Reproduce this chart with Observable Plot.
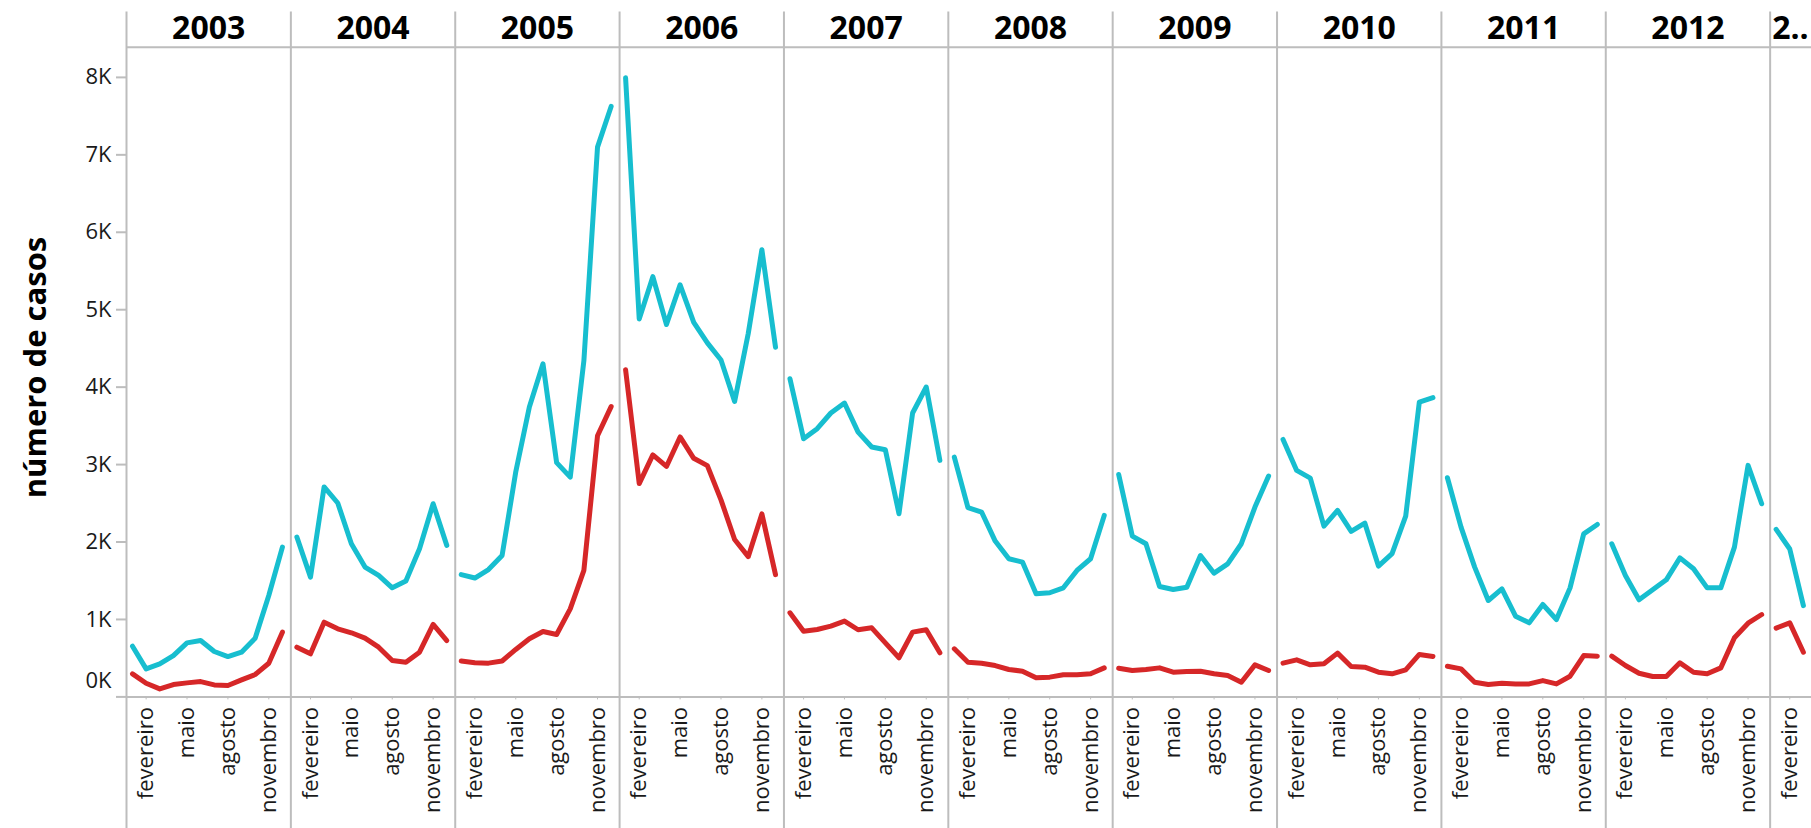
<!DOCTYPE html>
<html>
<head>
<meta charset="utf-8">
<script src="https://cdn.jsdelivr.net/npm/d3@7"></script>
<script src="https://cdn.jsdelivr.net/npm/@observablehq/plot@0.6"></script>
<style>
  html, body { margin: 0; padding: 0; background: #fff; overflow: hidden; }
  #chart svg { display: block; }
</style>
</head>
<body>
<div id="chart"></div>
<script>
// ---- data -------------------------------------------------------------
const years = [2003, 2004, 2005, 2006, 2007, 2008, 2009, 2010, 2011, 2012, 2013];
const monthNames = ["janeiro","fevereiro","março","abril","maio","junho","julho","agosto","setembro","outubro","novembro","dezembro"];
const tickMonths = [2, 5, 8, 11];
const yTicks = [0, 1000, 2000, 3000, 4000, 5000, 6000, 7000, 8000];
const seriesNames = ["notificados", "confirmados"];
const yTitle = "número de casos";

// monthly values, Jan..Dec for each year (2013: Jan..Mar)
const notificados = [
  655, 362, 427, 534, 698, 728, 586, 521, 578, 758, 1310, 1935,      // 2003
  2064, 1547, 2711, 2504, 1978, 1677, 1569, 1409, 1496, 1914, 2495, 1957, // 2004
  1579, 1535, 1645, 1827, 2904, 3743, 4301, 3025, 2838, 4340, 7100, 7625, // 2005
  7994, 4881, 5427, 4809, 5322, 4836, 4571, 4351, 3815, 4693, 5775, 4516, // 2006
  4109, 3334, 3464, 3666, 3795, 3420, 3227, 3192, 2366, 3666, 4002, 3054, // 2007
  3097, 2443, 2387, 2012, 1784, 1741, 1332, 1345, 1409, 1633, 1784, 2344, // 2008
  2873, 2077, 1978, 1426, 1387, 1417, 1826, 1598, 1718, 1978, 2451, 2852, // 2009
  3325, 2925, 2826, 2206, 2408, 2137, 2244, 1689, 1849, 2335, 3808, 3864, // 2010
  2830, 2193, 1676, 1245, 1396, 1042, 956, 1193, 999, 1408, 2106, 2227,   // 2011
  1977, 1568, 1254, 1383, 1512, 1796, 1654, 1408, 1408, 1934, 2990, 2494, // 2012
  2164, 1910, 1178                                                      // 2013
];
const confirmados = [
  297, 177, 103, 160, 181, 198, 155, 147, 220, 289, 435, 836,            // 2003
  642, 556, 965, 879, 828, 759, 642, 470, 448, 578, 936, 728,            // 2004
  464, 442, 436, 464, 613, 751, 845, 806, 1137, 1634, 3373, 3749,        // 2005
  4224, 2755, 3125, 2976, 3357, 3081, 2987, 2545, 2032, 1811, 2363, 1579, // 2006
  1086, 849, 871, 914, 979, 867, 892, 698, 505, 836, 867, 570,           // 2007
  621, 448, 435, 405, 354, 332, 246, 255, 285, 285, 298, 375,            // 2008
  371, 341, 354, 375, 319, 328, 332, 298, 276, 190, 414, 341,            // 2009
  436, 479, 414, 427, 565, 393, 384, 319, 298, 350, 548, 522,            // 2010
  396, 362, 190, 160, 177, 168, 168, 211, 168, 267, 534, 526,            // 2011
  526, 405, 306, 263, 263, 440, 319, 298, 375, 763, 952, 1064,           // 2012
  888, 956, 577                                                          // 2013
];

// ---- table built from the arrays ---------------------------------------
const rows = [];
[notificados, confirmados].forEach((arr, s) => {
  arr.forEach((v, i) => {
    rows.push({serie: seriesNames[s], year: years[0] + Math.floor(i / 12), month: (i % 12) + 1, value: v});
  });
});

const yMax = 8390;
const lastYear = years[years.length - 1];
const fullYears = years.slice(0, -1);
const grid = "#bdbdbd";
const ink = "#1a1a1a";
const font = "'Open Sans', 'Noto Sans', sans-serif";

const chart = Plot.plot({
  width: 1934,
  height: 828,
  marginLeft: 126,
  marginRight: 0,
  marginTop: 12,
  marginBottom: 0,
  style: {maxWidth: "none", fontFamily: font, background: "#fff", overflow: "hidden"},
  fx: {domain: years, padding: 0, round: false, axis: null, label: null},
  x: {domain: [0.56, 12.62], label: null},
  y: {domain: [0, yMax], insetTop: 34.7, insetBottom: 131.6, label: null},
  color: {domain: seriesNames, range: ["#17becf", "#d62728"]},
  marks: [
    Plot.frame({anchor: "left", stroke: grid, strokeWidth: 2}),
    Plot.ruleY([yMax, 0], {stroke: grid, strokeWidth: 2}),
    Plot.axisY({
      ticks: yTicks, tickSize: 10, tickPadding: 5, stroke: grid, strokeWidth: 2,
      tickFormat: d => d === 0 ? "" : (d / 1000) + "K",
      fontSize: 22, fill: ink, label: null
    }),
    Plot.axisY({
      ticks: [0], tickSize: 0, tickPadding: 15, dy: -15.7,
      tickFormat: d => (d / 1000) + "K", fontSize: 22, fill: ink, label: null
    }),
    Plot.axisX({
      ticks: tickMonths, tickFormat: m => monthNames[m - 1], tickRotate: -90,
      tickSize: 3, tickPadding: 7, dy: -131.6, stroke: grid, fill: ink,
      fontSize: 22, label: null
    }),
    Plot.lineY(rows, {
      fx: "year", x: "month", y: "value", stroke: "serie", z: "serie",
      strokeWidth: 5, strokeLinecap: "round", strokeLinejoin: "round"
    }),
    Plot.text(fullYears, {
      fx: d => d, text: d => String(d), frameAnchor: "top", dy: 16.7,
      fontSize: 32, fontWeight: 700, fill: "#000", lineAnchor: "middle"
    }),
    Plot.text([lastYear], {
      fx: d => d, text: d => String(d)[0] + "..", frameAnchor: "top-left", textAnchor: "start",
      dx: 2, dy: 16.7, fontSize: 32, fontWeight: 700, fill: "#000", lineAnchor: "middle"
    }),
    Plot.text([{year: years[0], label: yTitle}], {
      fx: "year", text: "label", frameAnchor: "left", textAnchor: "middle", rotate: -90,
      dx: -90, dy: -53, fontSize: 31, fontWeight: 700, fill: "#000", lineAnchor: "middle"
    })
  ]
});
document.getElementById("chart").appendChild(chart);
</script>
</body>
</html>
